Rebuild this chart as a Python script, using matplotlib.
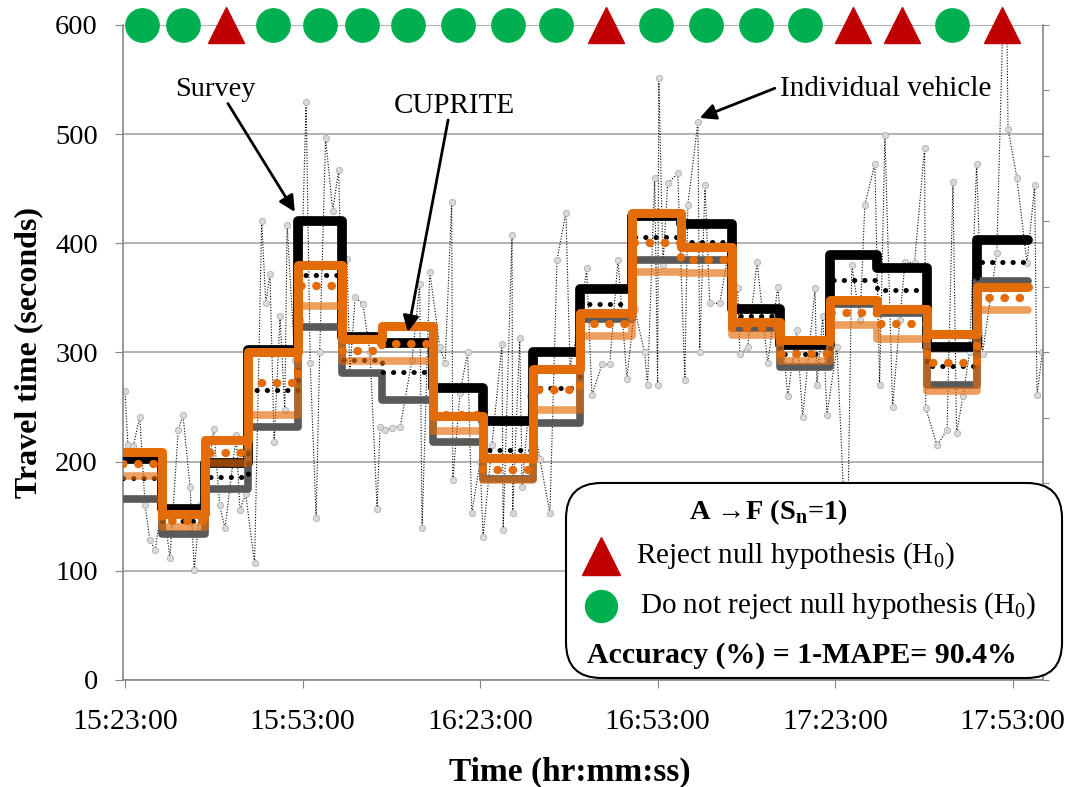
import numpy as np
import matplotlib.pyplot as plt
from matplotlib.patches import FancyBboxPatch

plt.rcParams['font.family'] = ['Liberation Serif', 'DejaVu Serif']
plt.rcParams['mathtext.fontset'] = 'custom'
plt.rcParams['mathtext.rm'] = 'Liberation Serif'
plt.rcParams['mathtext.bf'] = 'Liberation Serif:bold'

# time axis in minutes after 15:23:00
tick_min = [0, 30, 60, 90, 120, 150]
tick_labels = ['15:23:00', '15:53:00', '16:23:00', '16:53:00', '17:23:00', '17:53:00']

# aggregation intervals (minutes after 15:23:00)
bin_edges = [-0.34, 6.25, 13.5, 20.8, 29.3, 36.6, 43.4, 52.1, 60.5, 68.9, 76.9,
             85.6, 94.0, 102.5, 110.6, 119.1, 127.0, 135.5, 143.9, 152.5]

survey_mean = [202, 157, 199, 302, 420, 314, 309, 267, 237, 300, 358, 425, 418, 340, 307, 389, 377, 305, 403]
survey_mid = [185, 146, 186, 266, 371, 293, 282, 240, 211, 267, 344, 406, 401, 333, 299, 366, 357, 288, 383]
survey_low = [166, 134, 175, 232, 323, 281, 256, 218, 184, 235, 331, 385, 385, 322, 287, 344, 336, 270, 365]
cuprite_mean = [209, 152, 220, 300, 380, 312, 324, 242, 203, 285, 336, 428, 397, 328, 311, 348, 340, 317, 360]
cuprite_mid = [198, 146, 208, 272, 361, 301, 308, 243, 192, 266, 326, 400, 385, 322, 299, 336, 326, 290, 350]
cuprite_low = [187, 140, 199, 243, 343, 292, 292, 228, 183, 247, 315, 374, 373, 316, 292, 325, 312, 265, 339]

# hypothesis test per interval: True = reject H0
reject = [False, False, True, False, False, False, False, False, False, False,
          True, False, False, False, False, True, True, False, True]

# individual vehicle travel times
veh_min = [0.0, 0.5, 1.4, 2.5, 3.4, 4.2, 5.1, 6.3, 7.6, 9.0,
           9.8, 11.0, 11.7, 12.7, 14.4, 15.0, 16.0, 16.9, 18.8, 19.4,
           20.4, 21.9, 23.1, 23.8, 24.5, 25.2, 26.2, 27.0, 27.4, 28.7,
           29.6, 30.6, 31.3, 32.3, 32.9, 33.9, 35.1, 36.1, 36.8, 37.5,
           38.0, 38.9, 40.2, 41.4, 42.6, 43.1, 43.9, 45.1, 46.5, 48.5,
           49.8, 50.2, 51.5, 53.2, 54.1, 55.2, 55.4, 56.6, 57.9, 58.6,
           60.0, 60.5, 62.0, 63.7, 63.9, 65.4, 65.5, 66.7, 67.1, 68.4,
           70.1, 71.8, 73.0, 74.5, 75.2, 76.9, 78.0, 78.9, 80.6, 81.9,
           83.3, 84.8, 86.1, 87.8, 88.3, 89.5, 90.0, 90.2, 90.9, 91.7,
           93.4, 94.6, 95.1, 96.8, 97.1, 98.0, 98.8, 100.5, 102.2, 103.5,
           103.9, 105.2, 106.8, 108.6, 110.3, 112.0, 113.5, 114.5, 116.6, 116.9,
           117.9, 118.6, 120.3, 122.0, 122.8, 124.2, 125.0, 126.7, 127.5, 128.4,
           129.7, 130.9, 131.8, 133.4, 135.1, 135.3, 137.2, 138.9, 139.9, 140.5,
           141.6, 142.7, 143.9, 144.9, 147.3, 148.8, 149.2, 150.7, 152.4, 153.7,
           154.1, 155.0]
veh_val = [265, 215, 214, 241, 160, 128, 119, 165, 112, 229,
           243, 177, 101, 160, 205, 230, 160, 139, 224, 156,
           170, 107, 420, 345, 372, 218, 333, 247, 417, 293,
           330, 529, 290, 148, 300, 496, 430, 467, 320, 386,
           282, 351, 344, 300, 157, 232, 229, 231, 232, 293,
           363, 139, 374, 305, 290, 438, 183, 263, 300, 153,
           200, 131, 215, 308, 137, 408, 153, 313, 177, 260,
           202, 153, 385, 428, 287, 330, 377, 261, 289, 289,
           385, 276, 340, 300, 270, 460, 270, 551, 380, 455,
           464, 275, 435, 511, 300, 453, 345, 345, 400, 359,
           299, 305, 383, 290, 360, 260, 321, 241, 359, 270,
           333, 243, 305, 100, 380, 330, 435, 473, 270, 499,
           250, 330, 383, 382, 487, 249, 215, 229, 456, 226,
           260, 300, 473, 299, 391, 700, 505, 460, 382, 453,
           261, 300]

orange = '#E36C09'
gray = '#868686'

fig = plt.figure(figsize=(10.72, 7.87), dpi=100)
ax = fig.add_axes([0.1147, 0.1360, 0.8582, 0.8323])

# individual vehicles
ax.plot(veh_min, veh_val, color='black', lw=0.8, ls=(0, (1, 1.5)), zorder=2,
        marker='o', ms=4.5, mfc='#d9d9d9', mec='#b0b0b0', mew=0.6)

def steps(vals, **kw):
    ax.step(bin_edges, vals + [vals[-1]], where='post', solid_joinstyle='round',
            solid_capstyle='round', **kw)

steps(survey_mean, color='black', lw=7, zorder=3)
steps(survey_low, color='#595959', lw=5.5, zorder=3.2)
steps(survey_mid, color='black', lw=3.6, ls=(0, (0.05, 2.0)), dash_capstyle='round', zorder=3.4)
steps(cuprite_mean, color=orange, lw=6.5, zorder=3.6)
steps(cuprite_mid, color=orange, lw=6, ls=(0, (0.05, 1.77)), dash_capstyle='round', zorder=3.8)
steps(cuprite_low, color=orange, lw=5.5, alpha=0.65, zorder=4)

# hypothesis markers on top
centers = [(bin_edges[i] + bin_edges[i + 1]) / 2 for i in range(len(reject))]
rx = [c for c, r in zip(centers, reject) if r]
gx = [c for c, r in zip(centers, reject) if not r]
ax.plot(gx, [600] * len(gx), 'o', ms=24, color='#00B050', clip_on=False, zorder=6)
ax.plot(rx, [600] * len(rx), '^', ms=26, color='#C00000', clip_on=False, zorder=6)

# annotations
arrow = dict(arrowstyle='-|>', color='black', lw=2, mutation_scale=24, shrinkA=0, shrinkB=0)
ax.text(15.2, 541, 'Survey', ha='center', va='center', fontsize=20.5)
ax.annotate('', xy=(28.7, 428.7), xytext=(17.4, 528), arrowprops=arrow, zorder=7)
ax.text(55.7, 526, 'CUPRITE', ha='center', va='center', fontsize=21)
ax.annotate('', xy=(47.8, 318.8), xytext=(54.6, 513), arrowprops=arrow, zorder=7)
ax.text(110.6, 541, 'Individual vehicle', ha='left', va='center', fontsize=21)
ax.annotate('', xy=(97.1, 514.8), xytext=(109.8, 542), arrowprops=arrow, zorder=7)

ax.set_xlim(-0.34, 155.1)
ax.set_ylim(0, 600)
ax.set_xticks(tick_min)
ax.set_xticklabels(tick_labels)
ax.set_yticks(range(0, 601, 100))
ax.tick_params(axis='both', labelsize=20.5, length=6, color=gray, direction='out', pad=12)
ax.tick_params(axis='x', labelsize=21.5, pad=15)
ax.yaxis.grid(True, color='#a6a6a6', lw=1.2)
ax.set_axisbelow(True)
for s in ['top', 'right']:
    ax.spines[s].set_visible(False)
for s in ['left', 'bottom']:
    ax.spines[s].set_color(gray)
    ax.spines[s].set_linewidth(1.2)

ax.set_ylabel('Travel time (seconds)', fontsize=23, fontweight='bold')
ax.yaxis.set_label_coords(-0.087, 0.5)
ax.set_xlabel('Time (hr:mm:ss)', fontsize=24, fontweight='bold')
ax.xaxis.set_label_coords(0.486, -0.118)

ax2 = ax.twinx()
ax2.set_ylim(0, 10)
ax2.set_yticks(range(11))
ax2.tick_params(axis='y', labelright=False, length=4, color=gray, direction='out')
for s in ['top', 'left', 'bottom']:
    ax2.spines[s].set_visible(False)
ax2.spines['right'].set_color(gray)
ax2.spines['right'].set_linewidth(1.2)

# legend box
lax = fig.add_axes([0, 0, 1, 1], zorder=10)
lax.set_xlim(0, 1)
lax.set_ylim(0, 1)
lax.axis('off')
box = FancyBboxPatch((0.528, 0.1385), 0.4627, 0.2478,
                     boxstyle='round,pad=0,rounding_size=0.033',
                     mutation_aspect=1072 / 787, fc='white', ec='black', lw=1.5)
lax.add_patch(box)
lax.text(0.7164, 0.349, 'A \u2192F (S$_\\mathbf{n}$=1)', ha='center', va='center',
         fontsize=20.5, fontweight='bold')
lax.plot([0.5606], [0.2935], '^', ms=27, color='#C00000')
lax.text(0.5933, 0.2935, r'Reject null hypothesis (H$_\mathrm{0}$)', ha='left', va='center', fontsize=21)
lax.plot([0.5606], [0.2300], 'o', ms=23, color='#00B050')
lax.text(0.597, 0.2300, r'Do not reject null hypothesis (H$_\mathrm{0}$)', ha='left', va='center', fontsize=21)
lax.text(0.5476, 0.1677, 'Accuracy (%) = 1-MAPE= 90.4%', ha='left', va='center',
         fontsize=21.5, fontweight='bold')

fig.savefig('out.png', dpi=100)
